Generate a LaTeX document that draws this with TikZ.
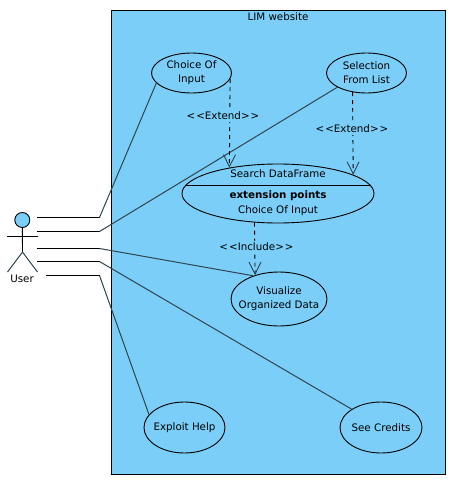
\documentclass[tikz,border=0pt]{standalone}
\usepackage{fontspec}
\setmainfont{DejaVu Sans}
\usetikzlibrary{arrows.meta,shapes.geometric}
\definecolor{skyfill}{HTML}{7ACEF7}
\definecolor{assocline}{HTML}{2F4550}
\tikzstyle{usecase}=[ellipse,draw=black,fill=skyfill,line width=0.9pt,inner sep=0pt]
\tikzstyle{caption}=[inner sep=0pt,align=center,font=\fontsize{10.3}{14}\selectfont]
\tikzstyle{deplabel}=[caption,fill=skyfill,inner ysep=2pt,inner xsep=1pt]
\tikzstyle{edge} = [draw=assocline,line width=1pt,-]
\tikzstyle{dep} = [draw=black,line width=0.9pt,dash pattern=on 4pt off 4pt,-{Straight Barb[length=12pt,width=12pt,color=assocline]}]
\begin{document}
\begin{tikzpicture}[x=1pt,y=-1pt]
    \useasboundingbox (0,0) rectangle (454,487);
    % The system box
    \node[draw=black,fill=skyfill,line width=0.9pt,minimum width=334pt,minimum height=464pt,inner sep=0pt] (system) at (278.5,242.5) {};
    \node[caption] (title) at (278,17) {LIM website};
    % First we draw the use cases
    \foreach \pos/\name/\wid/\hei/\txt in {{(191.5,73)/choice/80/40/{Choice Of\\Input}}, {(366.5,73)/selection/80/40/{Selection\\From List}}, {(278,193.5)/search/192/59/{}}, {(279,299)/visualize/96/54/{Visualize\\Organized Data}}, {(184.5,427.5)/exploit/81/51/{Exploit Help}}, {(381,427.5)/credits/82/51/{See Credits}}}
        \node[usecase,minimum width=\wid pt,minimum height=\hei pt,label={[caption]center:\txt}] (\name) at \pos {};
    % The compartments of the search case
    \draw[line width=0.9pt] (search.175) -- (search.5);
    \node[caption] (searchname) at (278,174) {Search DataFrame};
    \node[caption] (searchpoints) at (278,196) {\bfseries extension points};
    \node[caption] (searchinput) at (278,210.5) {Choice Of Input};
    % The actor
    \node[circle,draw=black,fill=skyfill,line width=0.9pt,minimum size=15pt,inner sep=0pt] (head) at (22.3,220) {};
    \coordinate (hip) at (22.5,252);
    \coordinate (armL) at (7,236.5);
    \coordinate (armR) at (38,236.5);
    \coordinate (footL) at (7.5,272);
    \coordinate (footR) at (37.5,272);
    \draw[line width=0.9pt] (head) -- (hip) (armL) -- (armR);
    \draw[edge] (footL) -- (hip) -- (footR);
    \node[caption] (user) at (22,279) {User};
    % Connect the actor with the use cases
    \foreach \i/\y/\x/\dest in {1/217.5/37/choice.196, 2/231.5/37/selection.206, 3/248.5/37/visualize.138, 4/261.5/37/credits.148, 5/275.5/46/exploit.160}{
        \coordinate (from\i) at (\x,\y);
        \coordinate (bend\i) at (99.5,\y);
        \draw[line width=1pt] (from\i) -- (bend\i);
        \path[edge] (bend\i) -- (\dest);
    }
    % Dependencies
    \foreach \source/\dest in {choice.-9.3/search.152.3, selection.234.6/search.14, search.231.9/visualize.135}
        \path[dep] (\source) -- (\dest);
    \node[deplabel] (extendA) at (223,116) {<{}\kern1pt<Extend>{}\kern1pt>};
    \node[deplabel] (extendB) at (352,129) {<{}\kern1pt<Extend>{}\kern1pt>};
    \node[deplabel] (includeA) at (256.5,247) {<{}\kern1pt<Include>{}\kern1pt>};
\end{tikzpicture}
\end{document}
